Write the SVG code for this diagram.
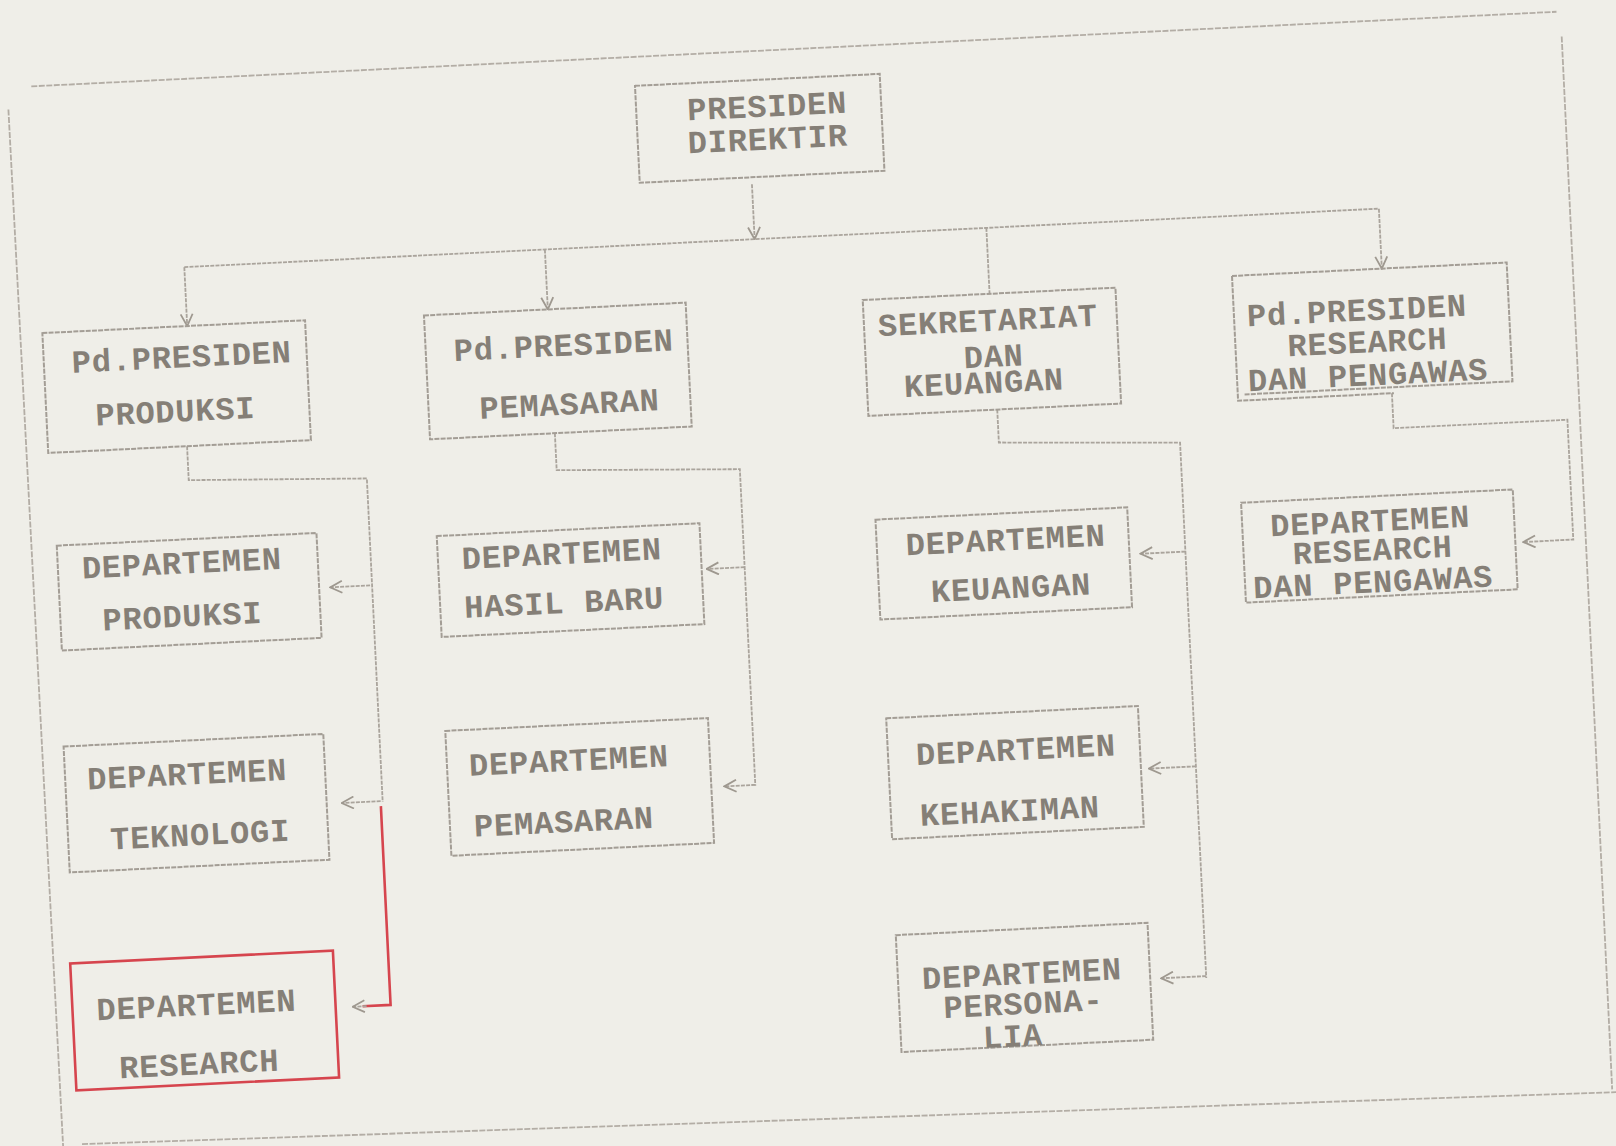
<svg xmlns="http://www.w3.org/2000/svg" width="1616" height="1146" viewBox="0 0 1616 1146">
<style>
.bx{fill:none;stroke:#a39d95;stroke-width:2;stroke-dasharray:5 1.2}
.ln{fill:none;stroke:#aaa49c;stroke-width:1.8;stroke-dasharray:4 1.2}
.fr{fill:none;stroke:#b3ada5;stroke-width:1.8;stroke-dasharray:6 1.5}
.red{fill:none;stroke:#d6454e;stroke-width:2.6}
.t{font-family:"Liberation Mono","Courier New",monospace;font-weight:bold;font-size:32px;letter-spacing:0.8px;fill:#857f77;text-anchor:middle}
</style>
<defs>
<marker id="arr" viewBox="0 0 14 14" refX="13" refY="7" markerWidth="14" markerHeight="14" markerUnits="userSpaceOnUse" orient="auto">
<path d="M1,1 L13,7 L1,13" fill="none" stroke="#9e988f" stroke-width="1.8"/>
</marker>
</defs>
<rect x="0" y="0" width="1616" height="1146" fill="#efeee8"/>
<g transform="rotate(-2.8 808 573)">
<g id="frame">
<path class="fr" d="M56,49 H1583"/>
<path class="fr" d="M32,71 L36,1109"/>
<path class="fr" d="M1587,74 L1586,1128"/>
<path class="fr" d="M55,1108 L1590,1131"/>
</g>
<g id="connectors">
<path class="ln" d="M771,182 V237" marker-end="url(#arr)"/>
<path class="ln" d="M200,237 H1396"/>
<path class="ln" d="M200,237 V296" marker-end="url(#arr)"/>
<path class="ln" d="M561,237 V297" marker-end="url(#arr)"/>
<path class="ln" d="M1003,237 V303"/>
<path class="ln" d="M1396,237 V297" marker-end="url(#arr)"/>
<path class="ln" d="M194,416 V450 L372,457 V781"/>
<path class="ln" d="M370,564 H330" marker-end="url(#arr)"/>
<path class="ln" d="M370,780 H331" marker-end="url(#arr)"/>
<path class="red" d="M370,785 V984 H342"/>
<path class="ln" d="M346,984 H332" marker-end="url(#arr)"/>
<path class="ln" d="M562,421 V458 L745,466 V783"/>
<path class="ln" d="M745,564 H707" marker-end="url(#arr)"/>
<path class="ln" d="M745,782 H714" marker-end="url(#arr)"/>
<path class="ln" d="M1005,419 V452 L1186,461 V997"/>
<path class="ln" d="M1186,570 H1141" marker-end="url(#arr)"/>
<path class="ln" d="M1186,785 H1139" marker-end="url(#arr)"/>
<path class="ln" d="M1186,995 H1141" marker-end="url(#arr)"/>
<path class="ln" d="M1400,422 V457 H1574 V577 H1524" marker-end="url(#arr)"/>
</g>
<g id="presiden-direktir">
<rect class="bx" x="659" y="78" width="245" height="97"/>
<text class="t" x="790" y="115">PRESIDEN</text>
<text class="t" x="789" y="148">DIREKTIR</text>
</g>
<g id="pd-presiden-produksi">
<rect class="bx" x="55" y="296" width="263" height="120"/>
<text class="t" x="193" y="337">Pd.PRESIDEN</text>
<text class="t" x="184" y="391">PRODUKSI</text>
</g>
<g id="pd-presiden-pemasaran">
<rect class="bx" x="437" y="297" width="262" height="124"/>
<text class="t" x="575" y="344">Pd.PRESIDEN</text>
<text class="t" x="578" y="403">PEMASARAN</text>
</g>
<g id="sekretariat-keuangan">
<rect class="bx" x="876" y="303" width="253" height="116"/>
<text class="t" x="1000" y="340">SEKRETARIAT</text>
<text class="t" x="1004" y="376">DAN</text>
<text class="t" x="993" y="402">KEUANGAN</text>
</g>
<g id="pd-presiden-research">
<path class="bx" d="M1246,297 H1521 V416 H1252"/>
<path class="bx" d="M1246,297 V422 H1402"/>
<text class="t" x="1369" y="348">Pd.PRESIDEN</text>
<text class="t" x="1378" y="380">RESEARCH</text>
<text class="t" x="1377" y="413">DAN PENGAWAS</text>
</g>
<g id="dept-produksi">
<rect class="bx" x="59" y="509" width="260" height="105"/>
<text class="t" x="183" y="543">DEPARTEMEN</text>
<text class="t" x="181" y="596">PRODUKSI</text>
</g>
<g id="dept-teknologi">
<rect class="bx" x="56" y="710" width="260" height="126"/>
<text class="t" x="178" y="754">DEPARTEMEN</text>
<text class="t" x="188" y="815">TEKNOLOGI</text>
</g>
<g id="dept-research">
<rect class="red" x="52" y="927" width="263" height="127"/>
<text class="t" x="176" y="985">DEPARTEMEN</text>
<text class="t" x="176" y="1044">RESEARCH</text>
</g>
<g id="dept-hasil-baru">
<rect class="bx" x="439" y="518" width="263" height="101"/>
<text class="t" x="563" y="552">DEPARTEMEN</text>
<text class="t" x="563" y="601">HASIL BARU</text>
</g>
<g id="dept-pemasaran">
<rect class="bx" x="438" y="713" width="263" height="125"/>
<text class="t" x="560" y="759">DEPARTEMEN</text>
<text class="t" x="552" y="820">PEMASARAN</text>
</g>
<g id="dept-keuangan">
<rect class="bx" x="878" y="523" width="252" height="100"/>
<text class="t" x="1007" y="560">DEPARTEMEN</text>
<text class="t" x="1010" y="608">KEUANGAN</text>
</g>
<g id="dept-kehakiman">
<rect class="bx" x="879" y="722" width="252" height="121"/>
<text class="t" x="1007" y="770">DEPARTEMEN</text>
<text class="t" x="998" y="831">KEHAKIMAN</text>
</g>
<g id="dept-personalia">
<rect class="bx" x="878" y="939" width="252" height="117"/>
<text class="t" x="1002" y="994">DEPARTEMEN</text>
<text class="t" x="1002" y="1024">PERSONA-</text>
<text class="t" x="990" y="1056">LIA</text>
</g>
<g id="dept-research-pengawas">
<rect class="bx" x="1244" y="524" width="272" height="100"/>
<text class="t" x="1372" y="559">DEPARTEMEN</text>
<text class="t" x="1373" y="588">RESEARCH</text>
<text class="t" x="1372" y="620">DAN PENGAWAS</text>
</g>
</g>
</svg>
